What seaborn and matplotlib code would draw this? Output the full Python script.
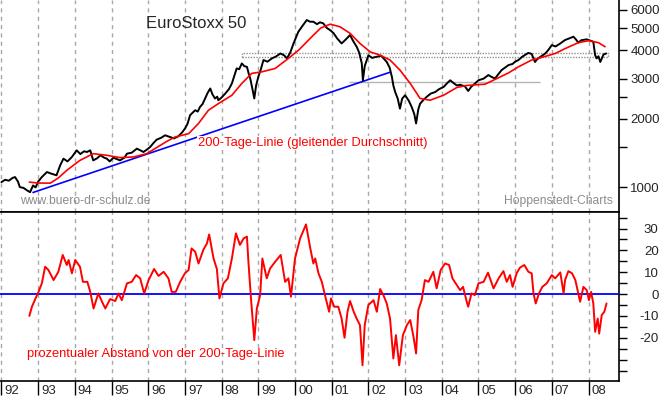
import seaborn as sns
import matplotlib.pyplot as plt
from matplotlib.patches import Rectangle
from matplotlib.ticker import FixedLocator, NullFormatter
from matplotlib.transforms import ScaledTranslation

# EuroStoxx 50, values (x in decimal years)
price_t = [1992.0, 1992.1, 1992.2, 1992.3, 1992.37, 1992.45, 1992.5, 1992.6, 1992.7, 1992.78,
           1992.86, 1992.93, 1993.0, 1993.1, 1993.24, 1993.35, 1993.5, 1993.6, 1993.69, 1993.8,
           1993.92, 1994.05, 1994.15, 1994.25, 1994.33, 1994.42, 1994.5, 1994.6, 1994.7, 1994.8,
           1994.87, 1994.95, 1995.05, 1995.15, 1995.23, 1995.35, 1995.42, 1995.55, 1995.69, 1995.8,
           1995.87, 1995.95, 1996.05, 1996.15, 1996.23, 1996.35, 1996.46, 1996.6, 1996.7, 1996.82,
           1996.92, 1997.0, 1997.07, 1997.14, 1997.2, 1997.28, 1997.35, 1997.41, 1997.48, 1997.55,
           1997.62, 1997.69, 1997.75, 1997.82, 1997.88, 1997.91, 1998.0, 1998.1, 1998.2, 1998.28,
           1998.35, 1998.41, 1998.48, 1998.55, 1998.62, 1998.69, 1998.74, 1998.78, 1998.84, 1998.89,
           1998.94, 1999.0, 1999.07, 1999.14, 1999.25, 1999.37, 1999.48, 1999.6, 1999.7, 1999.78,
           1999.87, 1999.96, 2000.09, 2000.2, 2000.32, 2000.41, 2000.5, 2000.6, 2000.68, 2000.77,
           2000.87, 2000.96, 2001.05, 2001.15, 2001.27, 2001.38, 2001.5, 2001.58, 2001.68, 2001.75,
           2001.82, 2001.85, 2001.9, 2002.0, 2002.1, 2002.23, 2002.35, 2002.5, 2002.58, 2002.64,
           2002.68, 2002.73, 2002.8, 2002.86, 2002.92, 2003.0, 2003.1, 2003.18, 2003.25, 2003.3,
           2003.36, 2003.41, 2003.5, 2003.59, 2003.7, 2003.82, 2003.93, 2004.05, 2004.15, 2004.23,
           2004.32, 2004.41, 2004.5, 2004.63, 2004.72, 2004.8, 2004.9, 2005.0, 2005.14, 2005.27,
           2005.36, 2005.45, 2005.55, 2005.63, 2005.72, 2005.82, 2005.93, 2006.0, 2006.09, 2006.2,
           2006.36, 2006.45, 2006.54, 2006.6, 2006.7, 2006.82, 2006.9, 2007.0, 2007.1, 2007.23,
           2007.36, 2007.47, 2007.59, 2007.66, 2007.72, 2007.8, 2007.95, 2008.05, 2008.13, 2008.18,
           2008.22, 2008.27, 2008.32, 2008.41, 2008.48]
price_v = [1055, 1080, 1070, 1100, 1110, 1060, 1003, 995, 970, 953,
           1020, 1000, 1060, 1110, 1168, 1150, 1130, 1250, 1337, 1300,
           1360, 1454, 1400, 1440, 1430, 1454, 1314, 1340, 1383, 1350,
           1337, 1300, 1350, 1330, 1314, 1350, 1406, 1420, 1479, 1450,
           1430, 1460, 1503, 1570, 1620, 1650, 1693, 1663, 1640, 1675,
           1740, 1810, 1900, 2072, 2120, 2180, 2150, 2253, 2320, 2455,
           2600, 2716, 2560, 2455, 2500, 2412, 2480, 2581, 2700, 2858,
           3100, 3325, 3300, 3498, 3400, 3380, 3150, 3005, 2700, 2455,
           2800, 3055, 3300, 3620, 3560, 3680, 3750, 3866, 3800, 3680,
           3900, 4280, 4813, 5100, 5420, 5330, 5330, 5200, 5300, 5240,
           5000, 4893, 4750, 4500, 4280, 4450, 4660, 4400, 4140, 3900,
           3500, 2950, 3400, 3800, 3700, 3740, 3780, 3550, 3350, 3055,
           2800, 2620, 2450, 2215, 2450, 2537, 2400, 2253, 2100, 1907,
           2200, 2330, 2420, 2497, 2580, 2620, 2700, 2757, 2870, 2950,
           2870, 2800, 2820, 2775, 2648, 2760, 2850, 2950, 3000, 3110,
           3050, 3005, 3150, 3270, 3350, 3440, 3480, 3560, 3620, 3750,
           3890, 3850, 3550, 3650, 3750, 3866, 4000, 4210, 4150, 4280,
           4430, 4500, 4581, 4450, 4313, 4420, 4460, 4400, 4355, 3800,
           3680, 3760, 3550, 3830, 3866]

# 200-Tage-Linie
ma_t = [1992.76, 1993.0, 1993.33, 1993.55, 1993.78, 1994.14, 1994.5, 1994.87, 1995.23, 1995.6,
        1995.96, 1996.23, 1996.5, 1996.73, 1997.1, 1997.37, 1997.64, 1997.91, 1998.28, 1998.55,
        1998.82, 1999.1, 1999.46, 1999.82, 2000.1, 2000.46, 2000.7, 2000.96, 2001.23, 2001.5,
        2001.77, 2002.05, 2002.32, 2002.59, 2002.86, 2003.14, 2003.41, 2003.68, 2004.05, 2004.41,
        2004.68, 2005.18, 2005.45, 2005.82, 2006.09, 2006.45, 2006.72, 2007.09, 2007.36, 2007.72,
        2008.0, 2008.27, 2008.45]
ma_v = [1055, 1045, 1044, 1100, 1188, 1314, 1406, 1383, 1351, 1360,
        1406, 1495, 1590, 1663, 1720, 1907, 2180, 2330, 2537, 2858,
        3163, 3214, 3325, 3680, 4002, 4581, 5000, 5200, 5060, 4740,
        4280, 3930, 3800, 3620, 3270, 2858, 2455, 2412, 2537, 2743,
        2800, 2836, 2975, 3180, 3380, 3620, 3715, 3866, 4062, 4313,
        4400, 4313, 4140]

# prozentualer Abstand von der 200-Tage-Linie
dev_t = [1992.76, 1992.83, 1992.92, 1993.01, 1993.1, 1993.19, 1993.28, 1993.42, 1993.55, 1993.67,
         1993.78, 1993.83, 1993.92, 1994.01, 1994.14, 1994.22, 1994.34, 1994.42, 1994.51, 1994.64,
         1994.74, 1994.83, 1994.96, 1995.1, 1995.19, 1995.28, 1995.42, 1995.55, 1995.67, 1995.78,
         1995.89, 1996.01, 1996.16, 1996.28, 1996.42, 1996.55, 1996.64, 1996.75, 1996.87, 1997.0,
         1997.1, 1997.18, 1997.28, 1997.37, 1997.5, 1997.6, 1997.66, 1997.78, 1997.87, 1997.94,
         1998.05, 1998.17, 1998.28, 1998.39, 1998.5, 1998.6, 1998.69, 1998.73, 1998.8, 1998.89,
         1998.96, 1999.05, 1999.11, 1999.23, 1999.32, 1999.46, 1999.61, 1999.73, 1999.82, 1999.89,
         2000.0, 2000.14, 2000.3, 2000.41, 2000.5, 2000.55, 2000.64, 2000.73, 2000.85, 2000.93,
         2000.98, 2001.07, 2001.18, 2001.27, 2001.35, 2001.43, 2001.5, 2001.6, 2001.68, 2001.77,
         2001.84, 2001.9, 2002.0, 2002.14, 2002.23, 2002.32, 2002.41, 2002.5, 2002.59, 2002.68,
         2002.75, 2002.84, 2002.94, 2003.05, 2003.14, 2003.23, 2003.3, 2003.36, 2003.45, 2003.54,
         2003.64, 2003.77, 2003.86, 2003.97, 2004.09, 2004.2, 2004.29, 2004.41, 2004.5, 2004.58,
         2004.68, 2004.72, 2004.81, 2004.9, 2005.0, 2005.14, 2005.26, 2005.41, 2005.55, 2005.68,
         2005.77, 2005.86, 2005.93, 2006.04, 2006.13, 2006.25, 2006.36, 2006.45, 2006.5, 2006.56,
         2006.65, 2006.74, 2006.86, 2007.0, 2007.09, 2007.23, 2007.32, 2007.36, 2007.45, 2007.55,
         2007.64, 2007.72, 2007.77, 2007.86, 2007.95, 2008.01, 2008.07, 2008.13, 2008.18, 2008.25,
         2008.29, 2008.36, 2008.43, 2008.49]
dev_v = [-10.0, -5.8, -2.3, 1.0, 4.9, 12.5, 11.0, 6.4, 10.2, 17.9,
         13.3, 15.6, 9.5, 15.6, 12.5, 5.6, 5.6, 1.0, -6.6, 0.3,
         -3.5, -6.6, -2.3, -3.2, 0.3, -2.8, 4.9, 5.6, 8.7, 7.2,
         0.3, 6.4, 11.5, 8.3, 10.2, 7.2, 1.0, 1.0, 5.6, 9.5,
         11.0, 20.9, 19.4, 14.0, 20.2, 23.2, 27.3, 16.3, 11.5, -2.0,
         4.9, 7.2, 16.3, 27.8, 22.5, 25.5, 26.3, 14.8, -2.0, -21.1,
         -6.6, -0.5, 16.3, 7.2, 11.7, 14.8, 17.9, 5.6, 7.2, -1.2,
         16.3, 25.5, 31.9, 21.5, 14.0, 16.3, 9.5, 5.6, -2.8, -8.1,
         -2.0, -5.8, -5.8, -11.2, -20.0, -8.1, -3.2, -8.1, -11.2, -14.2,
         -32.6, -14.2, -5.0, -2.8, -8.1, 2.3, -0.5, -4.3, -11.2, -29.5,
         -18.8, -32.6, -18.8, -14.2, -11.9, -19.6, -27.2, -7.3, -2.8, 6.4,
         5.6, 10.2, 2.6, 11.0, 14.0, 13.3, 7.2, 4.1, 1.8, 3.3,
         -3.5, -5.8, 0.3, -0.5, 4.9, 5.6, 9.8, 2.6, 7.2, 10.5,
         5.6, 8.7, 3.3, 9.5, 12.1, 13.3, 10.2, 9.5, 0.3, -4.3,
         0.3, 3.3, 4.9, 8.7, 7.2, 9.9, 0.3, 6.4, 10.5, 9.5,
         6.4, 0.3, -3.5, 3.3, 1.8, -2.8, 1.0, -4.3, -17.3, -11.2,
         -18.1, -9.6, -8.1, -4.3]

# drawn chart annotations
trend_t = [1992.86, 2002.59]
trend_v = [950, 3200]
box_t = [1998.56, 2008.53]
box_v = [3730, 3880]
support_t = [2001.47, 2006.68]
support_v = 2905

years = list(range(1992, 2009))
year_labels = ['92', '93', '94', '95', '96', '97', '98', '99', '00',
               '01', '02', '03', '04', '05', '06', '07', '08']

sns.set_style('white')
plt.rcParams['font.family'] = ['Liberation Sans', 'DejaVu Sans']

W, H = 660, 397
fig = plt.figure(figsize=(W / 100, H / 100), dpi=100)
ax1 = fig.add_axes([0, 1 - 211.5 / H, 619 / W, 211.5 / H])
ax2 = fig.add_axes([0, 1 - 381 / H, 619 / W, 169.5 / H])

grid_kw = dict(color='#a8a8a8', lw=1, ls=(0, (3, 3)))

# --- upper panel: index and 200 day line
sns.lineplot(x=price_t, y=price_v, ax=ax1, color='black', lw=1.4, zorder=4)
sns.lineplot(x=ma_t, y=ma_v, ax=ax1, color='#ff0000', lw=1.2, zorder=5)
sns.lineplot(x=trend_t, y=trend_v, ax=ax1, color='#0000ff', lw=1.2, zorder=3)
ax1.add_patch(Rectangle((box_t[0], box_v[0]), box_t[1] - box_t[0], box_v[1] - box_v[0],
                        fill=False, ec='#909090', lw=1, ls=(0, (1, 1)), zorder=2))
ax1.hlines(support_v, support_t[0], support_t[1], color='#b4b4b4', lw=1, zorder=2)

ax1.set_yscale('log')
ax1.set_ylim(784, 6637)
ax1.set_xlim(1991.96, 2008.83)
ax1.set_xticks(years)
ax1.tick_params(axis='x', length=0, labelbottom=False)
ax1.grid(axis='x', **grid_kw)
ax1.yaxis.tick_right()
ax1.set_yticks([1000, 2000, 3000, 4000, 5000, 6000],
               labels=['1000', '2000', '3000', '4000', '5000', '6000'])
ax1.yaxis.set_minor_locator(FixedLocator([1500, 2500]))
ax1.yaxis.set_minor_formatter(NullFormatter())
ax1.tick_params(axis='y', which='both', direction='out', length=6, width=1,
                color='black', pad=2.2, labelsize=9.5, right=True)

# --- lower panel: percentage distance
sns.lineplot(x=dev_t, y=dev_v, ax=ax2, color='#ff0000', lw=1.4, zorder=4)
ax2.axhline(0, color='#0000ff', lw=1.3, zorder=3)
ax2.set_ylim(-39.8, 37.8)
ax2.set_xlim(1991.96, 2008.83)
ax2.grid(axis='x', **grid_kw)
ax2.yaxis.tick_right()
ax2.set_yticks([30, 20, 10, 0, -10, -20], labels=['30', '20', '10', '0', '-10', '-20'])
ax2.yaxis.set_minor_locator(FixedLocator([35, 25, 15, 5, -5, -15, -25, -30, -35]))
ax2.tick_params(axis='y', which='both', direction='out', length=6, width=1,
                color='black', pad=22.5, labelsize=9.5, right=True)
for lab in ax2.get_yticklabels():
    lab.set_ha('right')

ax2.set_xticks(years, labels=year_labels)
ax2.tick_params(axis='x', direction='out', length=10, width=1, color='black',
                pad=-7.2, labelsize=9.5, bottom=True)
shift = ScaledTranslation(3 / 100, 0, fig.dpi_scale_trans)
for lab in ax2.get_xticklabels():
    lab.set_ha('left')
    lab.set_transform(lab.get_transform() + shift)

for ax in (ax1, ax2):
    ax.set_xlabel('')
    ax.set_ylabel('')
    ax.spines['left'].set_visible(False)
    for s in ('right', 'bottom', 'top'):
        ax.spines[s].set_color('black')
        ax.spines[s].set_linewidth(1.2)
ax1.spines['top'].set_visible(False)

# texts
fig.text(196 / W, 1 - 24 / H, 'EuroStoxx 50', fontsize=12, ha='center', va='center')
fig.text(198 / W, 1 - 143 / H, '200-Tage-Linie (gleitender Durchschnitt)', fontsize=9.3,
         color='#ff0000', ha='left', va='center', zorder=10,
         bbox=dict(fc='white', ec='none', pad=0.5))
fig.text(20 / W, 1 - 201 / H, 'www.buero-dr-schulz.de', fontsize=8.7, color='#8c8c8c',
         ha='left', va='center')
fig.text(613 / W, 1 - 201 / H, 'Hoppenstedt-Charts', fontsize=8.7, color='#8c8c8c',
         ha='right', va='center')
fig.text(27 / W, 1 - 354 / H, 'prozentualer Abstand von der 200-Tage-Linie', fontsize=9.3,
         color='#ff0000', ha='left', va='center')

fig.savefig('out.png', dpi=100)
